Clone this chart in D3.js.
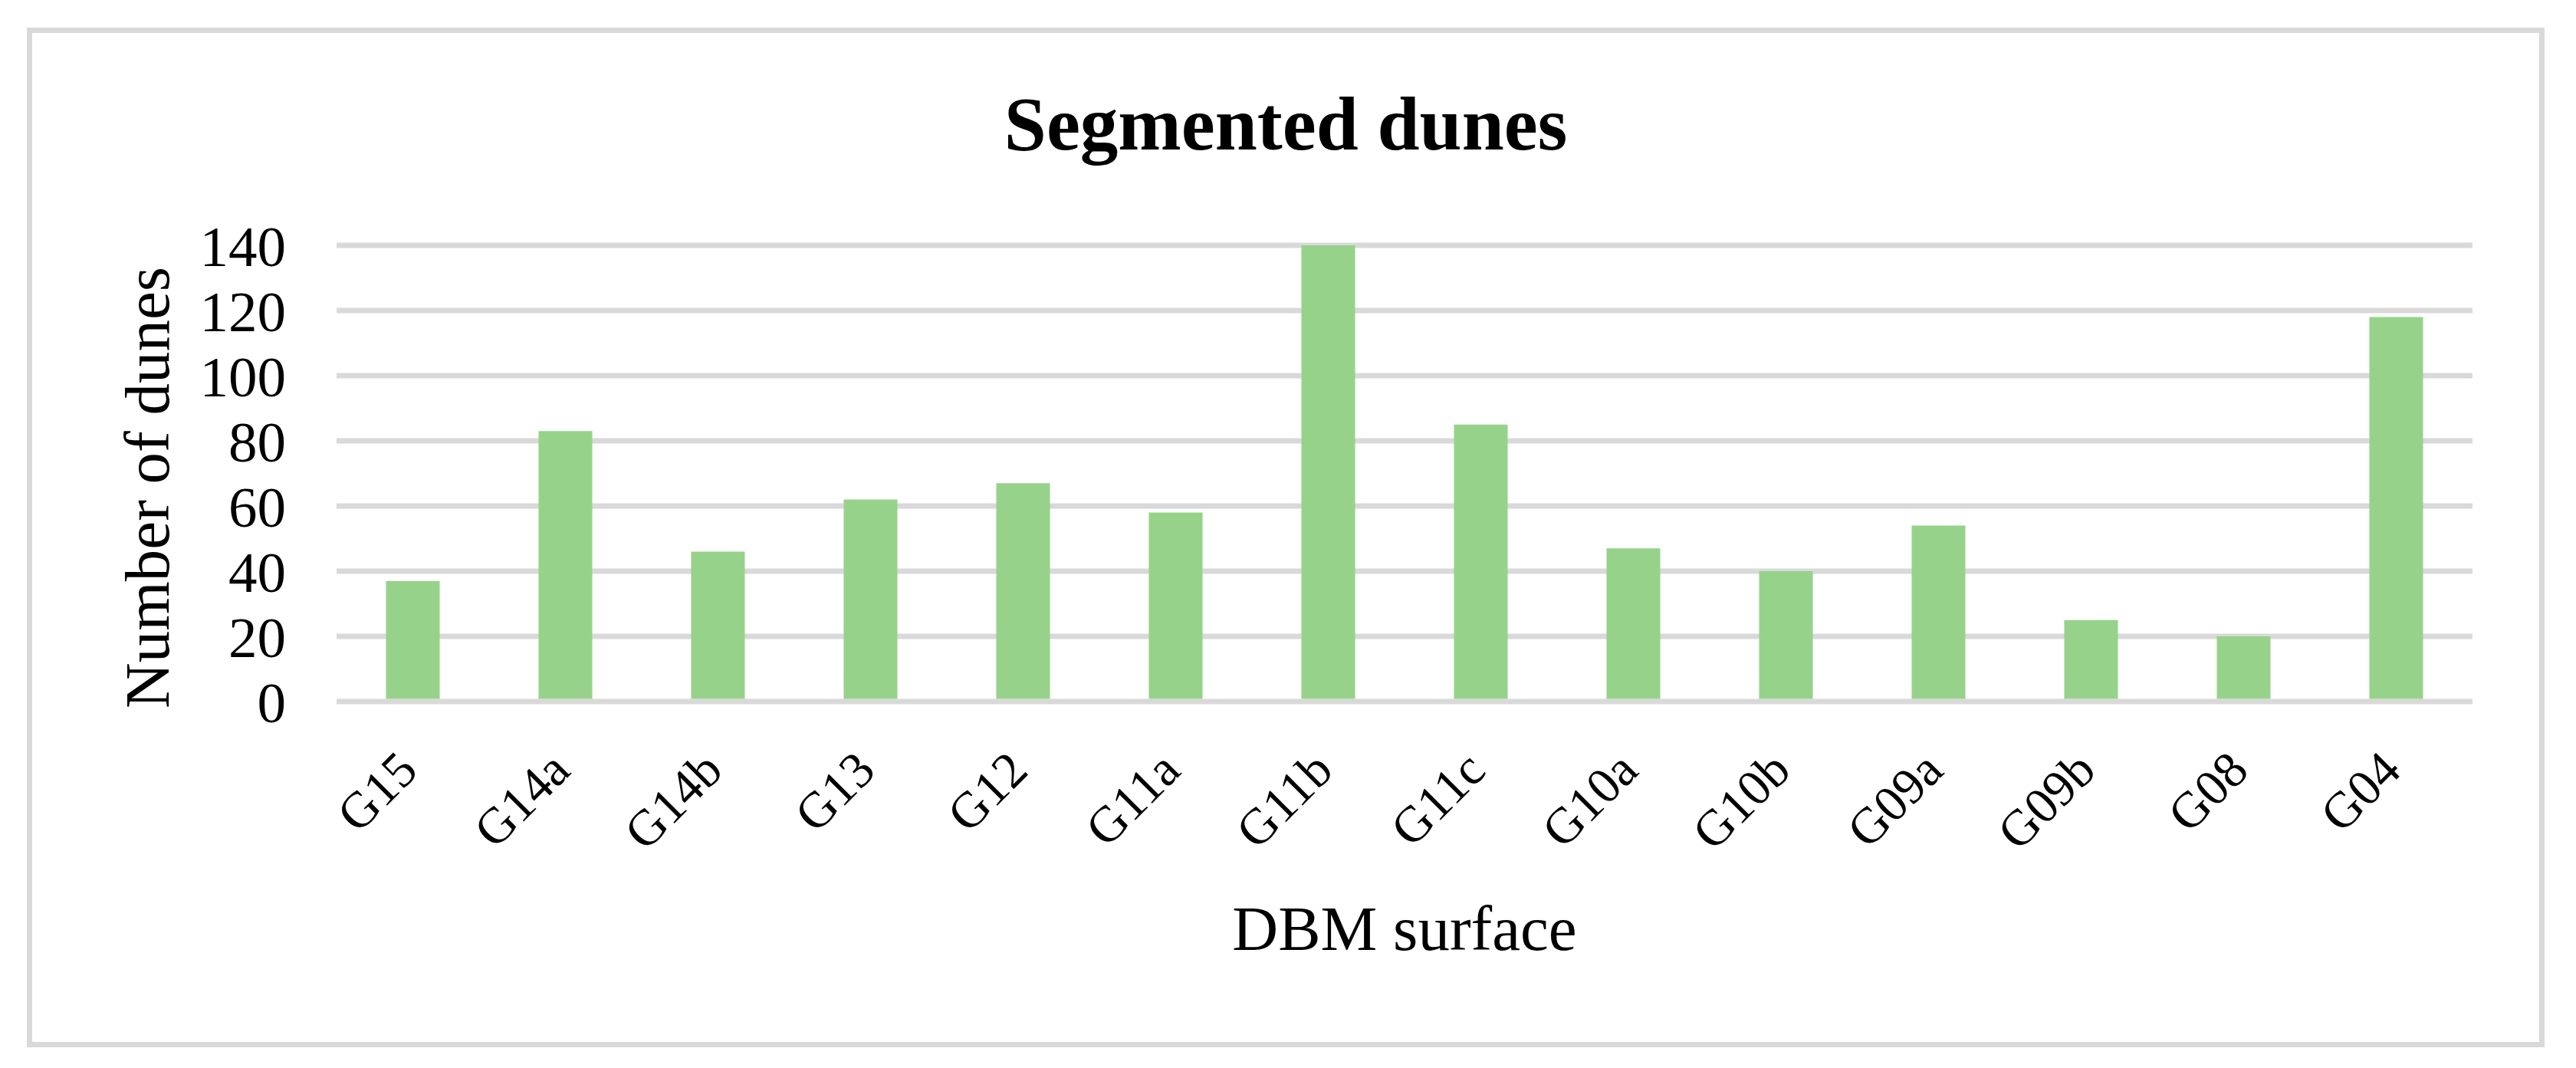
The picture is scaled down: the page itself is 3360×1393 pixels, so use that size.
<!DOCTYPE html>
<html>
  <head>
    <meta charset="utf-8" />
    <style>
      body {
        margin: 0;
        background: #fff;
      }
      svg text {
        font-family: "Liberation Serif", "Times New Roman", serif;
        fill: #000;
      }
      .grid line {
        stroke: #d9d9d9;
        stroke-width: 7;
      }
      .bar {
        fill: #97d28a;
      }
    </style>
  </head>
  <body>
    <svg id="chart"></svg>

    <script src="https://d3js.org/d3.v7.min.js"></script>
    <script>
      // data
      let surfaces = ["G15", "G14a", "G14b", "G13", "G12", "G11a", "G11b",
        "G11c", "G10a", "G10b", "G09a", "G09b", "G08", "G04"];
      let dunes = [37, 83, 46, 62, 67, 58, 140, 85, 47, 40, 54, 25, 20, 118];
      let yTicks = [0, 20, 40, 60, 80, 100, 120, 140];

      let width = 3360,
        height = 1393;

      let svg = d3.select("#chart").attr("width", width).attr("height", height);

      // plot area
      let plotLeft = 439,
        plotRight = 3225,
        plotTop = 320,
        plotBottom = 915;

      let x = d3
        .scaleBand()
        .domain(surfaces)
        .range([plotLeft, plotRight])
        .paddingInner(0.648)
        .paddingOuter(0.324);

      let y = d3.scaleLinear().domain([0, 140]).range([plotBottom, plotTop]);

      // chart border
      svg
        .append("rect")
        .attr("x", 38.5)
        .attr("y", 39.5)
        .attr("width", 3277)
        .attr("height", 1323)
        .attr("fill", "#fff")
        .attr("stroke", "#d9d9d9")
        .attr("stroke-width", 7);

      // gridlines
      svg
        .append("g")
        .attr("class", "grid")
        .selectAll("line")
        .data(yTicks)
        .enter()
        .append("line")
        .attr("x1", plotLeft)
        .attr("x2", plotRight)
        .attr("y1", (d) => y(d))
        .attr("y2", (d) => y(d));

      // bars
      svg
        .append("g")
        .selectAll("rect")
        .data(surfaces)
        .enter()
        .append("rect")
        .attr("class", "bar")
        .attr("x", (d) => x(d))
        .attr("width", x.bandwidth())
        .attr("y", (d, i) => y(dunes[i]))
        .attr("height", (d, i) => y(0) - y(dunes[i]) - 3.5);

      // y axis labels
      let yAxis = d3.axisLeft(y).tickValues(yTicks).tickSize(0).tickPadding(66);
      svg
        .append("g")
        .attr("transform", "translate(" + plotLeft + ",0)")
        .call(yAxis)
        .call((g) => g.select(".domain").remove())
        .attr("font-family", null)
        .attr("font-size", null)
        .selectAll("text")
        .style("font-size", "75px")
        .attr("dy", "0.35em");

      // x axis labels, rotated
      svg
        .append("g")
        .selectAll("text")
        .data(surfaces)
        .enter()
        .append("text")
        .attr("text-anchor", "end")
        .style("font-size", "66px")
        .attr("transform", (d) => {
          let cx = x(d) + x.bandwidth() / 2 + 9;
          return "translate(" + cx + ",1008) rotate(-45)";
        })
        .text((d) => d);

      // title
      svg
        .append("text")
        .attr("x", 1677)
        .attr("y", 195)
        .attr("text-anchor", "middle")
        .style("font-size", "99px")
        .style("font-weight", "bold")
        .text("Segmented dunes");

      // axis titles
      svg
        .append("text")
        .attr("x", (plotLeft + plotRight) / 2)
        .attr("y", 1239)
        .attr("text-anchor", "middle")
        .style("font-size", "83px")
        .text("DBM surface");

      svg
        .append("text")
        .attr("transform", "translate(220,636) rotate(-90)")
        .attr("text-anchor", "middle")
        .style("font-size", "83px")
        .text("Number of dunes");
    </script>
  </body>
</html>
